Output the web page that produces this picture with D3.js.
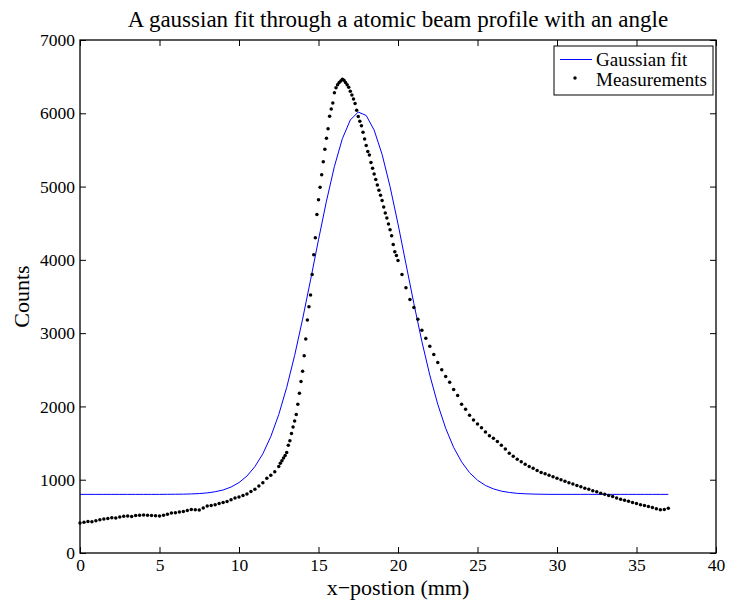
<!DOCTYPE html>
<html>
<head>
<meta charset="utf-8">
<script src="https://cdn.jsdelivr.net/npm/d3@7"></script>
<style>
  body { margin: 0; background: #ffffff; }
  text { font-family: "Liberation Serif", "Times New Roman", serif; fill: #000000; }
</style>
</head>
<body>
<div id="chart"></div>
<script>
// Beam profile chart

var titleText = "A gaussian fit through a atomic beam profile with an angle";
var xLabel = "x\u2212postion (mm)";
var yLabel = "Counts";
var xTicks = [0, 5, 10, 15, 20, 25, 30, 35, 40];
var yTicks = [0, 1000, 2000, 3000, 4000, 5000, 6000, 7000];
var legendNames = ["Gaussian fit", "Measurements"];

// Gaussian fit (x in mm, counts)
var fitX = [0, 0.5, 1, 1.5, 2, 2.5, 3, 3.5, 4, 4.5, 5, 5.5, 6, 6.5, 7, 7.5, 8, 8.5, 9, 9.5,
  10, 10.5, 11, 11.5, 12, 12.5, 13, 13.5, 14, 14.5, 15, 15.5, 16, 16.5, 17, 17.5, 18, 18.5,
  19, 19.5, 20, 20.5, 21, 21.5, 22, 22.5, 23, 23.5, 24, 24.5, 25, 25.5, 26, 26.5, 27, 27.5,
  28, 28.5, 29, 29.5, 30, 30.5, 31, 31.5, 32, 32.5, 33, 33.5, 34, 34.5, 35, 35.5, 36, 36.5, 37];
var fitY = [800, 800, 800, 800, 800, 800, 800, 800, 800, 800, 800, 801, 802, 803, 806, 811, 820, 836, 860, 900,
  961, 1050, 1179, 1354, 1589, 1889, 2259, 2696, 3191, 3726, 4274, 4801, 5274, 5653, 5908, 6017, 5970, 5771,
  5439, 5000, 4490, 3946, 3402, 2888, 2427, 2029, 1701, 1441, 1243, 1096, 993, 922, 875, 844, 826, 814,
  808, 804, 802, 800, 800, 800, 800, 800, 800, 800, 800, 800, 800, 800, 800, 800, 800, 800, 800];

// Measurements (x in mm, counts)
var measX = [0, 0.25, 0.5, 0.75, 1, 1.25, 1.5, 1.75, 2, 2.25, 2.5, 2.75, 3, 3.25, 3.5, 3.75, 4, 4.25, 4.5, 4.75,
  5, 5.25, 5.5, 5.75, 6, 6.25, 6.5, 6.75, 7, 7.25, 7.5, 7.75, 8, 8.25, 8.5, 8.75, 9, 9.25, 9.5, 9.75,
  10, 10.25, 10.5, 10.75, 11, 11.25, 11.5, 11.75, 12, 12.25, 12.5,
  12.6, 12.7, 12.8, 12.9, 13, 13.1, 13.2, 13.3, 13.4, 13.5, 13.6, 13.7, 13.8, 13.9, 14, 14.1, 14.2, 14.3, 14.4,
  14.5, 14.6, 14.7, 14.8, 14.9, 15, 15.1, 15.2, 15.3, 15.4, 15.5, 15.6, 15.7, 15.8, 15.9, 16, 16.1, 16.2, 16.3,
  16.4, 16.5, 16.6, 16.7, 16.8, 16.9, 17, 17.1, 17.2, 17.3, 17.4, 17.5, 17.6, 17.7, 17.8, 17.9, 18, 18.1, 18.2,
  18.3, 18.4, 18.5, 18.6, 18.7, 18.8, 18.9, 19, 19.1, 19.2, 19.3, 19.4, 19.5, 19.6, 19.7, 19.8, 19.9, 20,
  20.25, 20.5, 20.75, 21, 21.25, 21.5, 21.75, 22, 22.25, 22.5, 22.75, 23, 23.25, 23.5, 23.75, 24, 24.25, 24.5,
  24.75, 25, 25.25, 25.5, 25.75, 26, 26.25, 26.5, 26.75, 27, 27.25, 27.5, 27.75, 28, 28.25, 28.5, 28.75, 29,
  29.25, 29.5, 29.75, 30, 30.25, 30.5, 30.75, 31, 31.25, 31.5, 31.75, 32, 32.25, 32.5, 32.75, 33, 33.25, 33.5,
  33.75, 34, 34.25, 34.5, 34.75, 35, 35.25, 35.5, 35.75, 36, 36.25, 36.5, 36.75, 37];
var measY = [410, 420, 430, 428, 440, 452, 465, 470, 480, 478, 492, 500, 505, 498, 510, 515, 520, 516, 512, 508,
  505, 515, 530, 545, 550, 558, 565, 580, 592, 590, 588, 615, 640, 648, 660, 675, 690, 702, 725, 750,
  765, 785, 805, 840, 870, 915, 960, 1020, 1060, 1110, 1180,
  1225, 1260, 1295, 1330, 1370, 1470, 1530, 1630, 1720, 1800, 1890, 2030, 2180, 2340, 2480, 2690, 2920, 3180, 3360,
  3520, 3800, 4070, 4300, 4620, 4820, 4990, 5160, 5340, 5510, 5660, 5790, 5960, 6060, 6140, 6280, 6350, 6390, 6420,
  6440, 6465, 6450, 6420, 6390, 6355, 6300, 6250, 6195, 6135, 6040, 5955, 5890, 5830, 5740, 5650, 5560, 5480, 5430,
  5330, 5250, 5170, 5095, 5020, 4950, 4880, 4810, 4720, 4640, 4570, 4490, 4410, 4330, 4210, 4110, 4060, 3990,
  3800, 3620, 3460, 3350, 3190, 3040, 2930, 2820, 2710, 2600, 2500, 2410, 2330, 2230, 2150, 2030, 1960, 1880,
  1815, 1760, 1710, 1650, 1600, 1565, 1520, 1470, 1420, 1360, 1320, 1280, 1245, 1210, 1180, 1155, 1125, 1100,
  1080, 1060, 1040, 1020, 1000, 980, 960, 940, 920, 905, 885, 870, 850, 835, 815, 800, 785, 770,
  750, 735, 720, 705, 690, 675, 660, 648, 635, 620, 605, 590, 595, 610];

var width = 729;
var height = 600;
var margin = ({ top: 40, right: 13, bottom: 47, left: 80 });
var tickLen = 6;
var fitColor = "#0000ff";

var svg = d3.select("#chart").append("svg")
    .attr("width", width)
    .attr("height", height);

var x = d3.scaleLinear()
    .domain([0, 40])
    .range([margin.left, width - margin.right]);
var y = d3.scaleLinear()
    .domain([0, 7000])
    .range([height - margin.bottom, margin.top]);

// Axes on all four sides, ticks pointing inwards like matlab
var axisBottom = d3.axisBottom(x).tickValues(xTicks).tickSizeInner(-tickLen).tickSizeOuter(0).tickPadding(6);
var axisTop = d3.axisTop(x).tickValues(xTicks).tickSizeInner(-tickLen).tickSizeOuter(0).tickFormat("");
var axisLeft = d3.axisLeft(y).tickValues(yTicks).tickSizeInner(-tickLen).tickSizeOuter(0).tickPadding(5).tickFormat(d3.format("d"));
var axisRight = d3.axisRight(y).tickValues(yTicks).tickSizeInner(-tickLen).tickSizeOuter(0).tickFormat("");

function styleAxis(g) {
    g.select(".domain").remove();
    g.selectAll(".tick line").attr("stroke", "#000000");
    g.selectAll(".tick text")
        .attr("font-family", "Liberation Serif, serif")
        .attr("font-size", 17.5)
        .attr("fill", "#000000");
}

svg.append("g").attr("transform", "translate(0," + (height - margin.bottom) + ")").call(axisBottom).call(styleAxis);
svg.append("g").attr("transform", "translate(0," + margin.top + ")").call(axisTop).call(styleAxis);
svg.append("g").attr("transform", "translate(" + margin.left + ",0)").call(axisLeft).call(styleAxis);
svg.append("g").attr("transform", "translate(" + (width - margin.right) + ",0)").call(axisRight).call(styleAxis);

// Fit line
var line = d3.line()
    .x(function (d, i) { return x(fitX[i]); })
    .y(function (d) { return y(d); });
svg.append("path")
    .datum(fitY)
    .attr("d", line)
    .attr("fill", "none")
    .attr("stroke", fitColor)
    .attr("stroke-width", 1);

// Measurement dots
svg.append("g")
    .selectAll("circle")
    .data(measY)
    .enter()
    .append("circle")
    .attr("cx", function (d, i) { return x(measX[i]); })
    .attr("cy", function (d) { return y(d); })
    .attr("r", 1.75)
    .attr("fill", "#000000");

// Box round the plot
svg.append("rect")
    .attr("x", margin.left)
    .attr("y", margin.top)
    .attr("width", width - margin.left - margin.right)
    .attr("height", height - margin.top - margin.bottom)
    .attr("fill", "none")
    .attr("stroke", "#000000")
    .attr("stroke-width", 1.3);

// Title and axis labels
svg.append("text")
    .attr("x", (margin.left + width - margin.right) / 2)
    .attr("y", 27)
    .attr("text-anchor", "middle")
    .attr("font-size", 23)
    .text(titleText);
svg.append("text")
    .attr("x", (margin.left + width - margin.right) / 2)
    .attr("y", 595)
    .attr("text-anchor", "middle")
    .attr("font-size", 22)
    .text(xLabel);
svg.append("text")
    .attr("transform", "translate(29," + (margin.top + (height - margin.top - margin.bottom) / 2) + ") rotate(-90)")
    .attr("text-anchor", "middle")
    .attr("font-size", 22)
    .text(yLabel);

// Legend
var legend = svg.append("g").attr("transform", "translate(554,46)");
legend.append("rect")
    .attr("width", 159)
    .attr("height", 49)
    .attr("fill", "#ffffff")
    .attr("stroke", "#000000")
    .attr("stroke-width", 1);
legend.append("line")
    .attr("x1", 6).attr("x2", 38)
    .attr("y1", 13.5).attr("y2", 13.5)
    .attr("stroke", fitColor)
    .attr("stroke-width", 1);
legend.append("circle")
    .attr("cx", 21).attr("cy", 32)
    .attr("r", 1.75)
    .attr("fill", "#000000");
legend.selectAll("text.name")
    .data(legendNames)
    .enter()
    .append("text")
    .attr("class", "name")
    .attr("x", 42)
    .attr("y", function (d, i) { return 20 + i * 19.5; })
    .attr("font-size", 19)
    .text(function (d) { return d; });
</script>
</body>
</html>
